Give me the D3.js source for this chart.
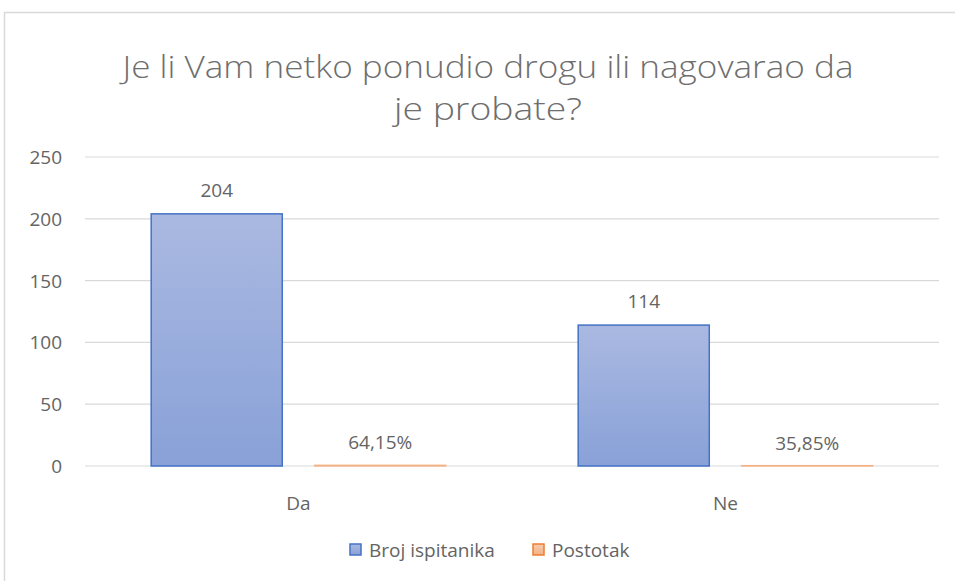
<!DOCTYPE html>
<html>
<head>
<meta charset="utf-8">
<script src="https://cdn.jsdelivr.net/npm/d3@7"></script>
<style>
  body { margin: 0; background: #fff; }
  text { font-family: "Open Sans", "Noto Sans", sans-serif; fill: #646464; }
</style>
</head>
<body>
<div id="chart"></div>
<script>
// data
var categories = ["Da", "Ne"];
var series_names = ["Broj ispitanika", "Postotak"];
var broj_values = [204, 114];
var postotak_values = [0.6415, 0.3585];
var y_ticks = [0, 50, 100, 150, 200, 250];
var title_lines = ["Je li Vam netko ponudio drogu ili nagovarao da", "je probate?"];

var width = 955, height = 581;
var margin = {left: 85, right: 16, top: 157, bottom: 115};
var fs = "19px";

var svg = d3.select("#chart").append("svg")
  .attr("width", width).attr("height", height);

var defs = svg.append("defs");
var g_blue = defs.append("linearGradient").attr("id", "grad_blue")
  .attr("x1", "0%").attr("x2", "0%").attr("y1", "0%").attr("y2", "100%");
g_blue.append("stop").attr("offset", "0%").attr("stop-color", "#aab9e1");
g_blue.append("stop").attr("offset", "100%").attr("stop-color", "#89a1d8");
var g_orange = defs.append("linearGradient").attr("id", "grad_orange")
  .attr("x1", "0%").attr("x2", "0%").attr("y1", "0%").attr("y2", "100%");
g_orange.append("stop").attr("offset", "0%").attr("stop-color", "#f8cbad");
g_orange.append("stop").attr("offset", "100%").attr("stop-color", "#f4b183");

//chart border
svg.append("rect")
  .attr("x", 4.5).attr("y", 12.5)
  .attr("width", width + 10).attr("height", height + 10)
  .style("fill", "none").style("stroke", "#d9d9d9").style("stroke-width", 1.5);

//title
svg.selectAll(".title").data(title_lines).enter()
  .append("text").attr("class", "title")
  .attr("x", 488).attr("y", function(d, i){ return 78 + i*42; })
  .attr("text-anchor", "middle")
  .style("font-size", "32px")
  .style("font-weight", 300)
  .style("fill", "#6e6e6e")
  .attr("textLength", function(d, i){ return i == 0 ? 731 : 188; })
  .attr("lengthAdjust", "spacingAndGlyphs")
  .text(function(d){ return d; });

var x = d3.scaleBand().domain(categories)
  .range([margin.left, width - margin.right]);
var y = d3.scaleLinear().domain([0, 250])
  .range([height - margin.bottom, margin.top]);

//gridlines
svg.selectAll(".grid").data(y_ticks).enter()
  .append("line").attr("class", "grid")
  .attr("x1", margin.left).attr("x2", width - margin.right)
  .attr("y1", function(d){ return y(d); }).attr("y2", function(d){ return y(d); })
  .style("stroke", "#d9d9d9").style("stroke-width", 1.2);

//y labels
svg.selectAll(".ytick").data(y_ticks).enter()
  .append("text").attr("class", "ytick")
  .attr("x", 62).attr("y", function(d){ return y(d) + 7; })
  .attr("text-anchor", "end")
  .style("font-size", fs)
  .text(function(d){ return d; });

//x labels
svg.selectAll(".xtick").data(categories).enter()
  .append("text").attr("class", "xtick")
  .attr("x", function(d){ return x(d) + x.bandwidth()/2; })
  .attr("y", 510)
  .attr("text-anchor", "middle")
  .style("font-size", fs)
  .text(function(d){ return d; });

var bw = x.bandwidth();
var bar_w = bw*0.307;
var offs = [bw*0.155, bw*0.538];

//blue bars
svg.selectAll(".bar_broj").data(broj_values).enter()
  .append("rect").attr("class", "bar_broj")
  .attr("x", function(d, i){ return x(categories[i]) + offs[0]; })
  .attr("y", function(d){ return y(d); })
  .attr("width", bar_w)
  .attr("height", function(d){ return y(0) - y(d); })
  .style("fill", "url(#grad_blue)").style("stroke", "#4472c4").style("stroke-width", 1.5);

//orange bars (tiny)
svg.selectAll(".bar_post").data(postotak_values).enter()
  .append("rect").attr("class", "bar_post")
  .attr("x", function(d, i){ return x(categories[i]) + offs[1]; })
  .attr("y", function(d){ return y(d); })
  .attr("width", bar_w)
  .attr("height", function(d){ return Math.max(y(0) - y(d), 0.5); })
  .style("fill", "url(#grad_orange)").style("stroke", "#f4b183").style("stroke-width", 1.2);

//data labels
svg.selectAll(".lbl_broj").data(broj_values).enter()
  .append("text").attr("class", "lbl_broj")
  .attr("x", function(d, i){ return x(categories[i]) + offs[0] + bar_w/2; })
  .attr("y", function(d){ return y(d) - 17; })
  .attr("text-anchor", "middle")
  .style("font-size", fs)
  .text(function(d){ return d; });

var pct = function(v){ return (v*100).toFixed(2).replace(".", ",") + "%"; };
svg.selectAll(".lbl_post").data(postotak_values).enter()
  .append("text").attr("class", "lbl_post")
  .attr("x", function(d, i){ return x(categories[i]) + offs[1] + bar_w/2; })
  .attr("y", function(d){ return y(d) - 16; })
  .attr("text-anchor", "middle")
  .style("font-size", fs)
  .text(function(d){ return pct(d); });

//legend
var legend_x = [350, 533];
var legend_fill = ["url(#grad_blue)", "url(#grad_orange)"];
var legend_stroke = ["#4472c4", "#ed7d31"];
var leg = svg.selectAll(".leg").data(series_names).enter()
  .append("g").attr("class", "leg")
  .attr("transform", function(d, i){ return "translate(" + legend_x[i] + ",544)"; });
leg.append("rect").attr("width", 11).attr("height", 11)
  .style("fill", function(d, i){ return legend_fill[i]; })
  .style("stroke", function(d, i){ return legend_stroke[i]; })
  .style("stroke-width", 1.5);
leg.append("text").attr("x", 19).attr("y", 13)
  .style("font-size", fs)
  .text(function(d){ return d; });
</script>
</body>
</html>
